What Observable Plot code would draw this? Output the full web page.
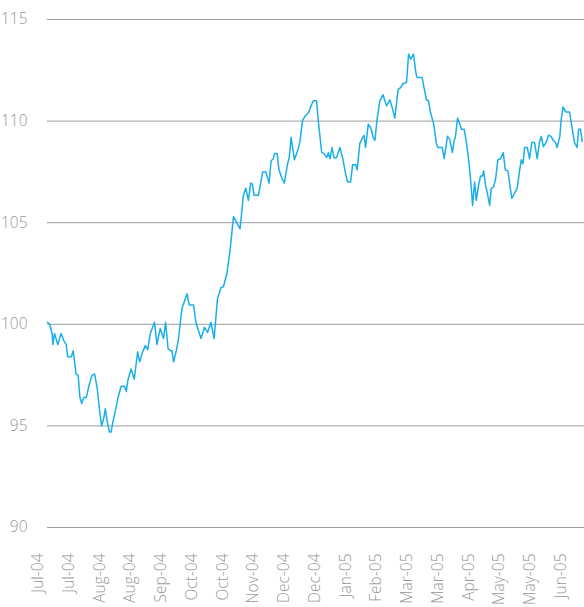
<!DOCTYPE html>
<html><head><meta charset="utf-8">
<script src="https://cdn.jsdelivr.net/npm/d3@7"></script>
<script src="https://cdn.jsdelivr.net/npm/@observablehq/plot@0.6"></script>
<style>html,body{margin:0;padding:0;background:#fff}</style>
</head><body><div id="chart"></div>
<script>
// Position along the x axis, in trading days from the start of the series
const t = [0,1.1,2.3,2.6,3.4,5.0,6.6,7.9,9.1,9.8,11.6,12.5,13.9,14.9,15.7,16.6,17.6,18.9,20.2,21.7,22.9,24.1,25.2,26.3,27.3,28.1,29.0,30.1,30.9,31.9,33.1,34.3,35.8,37.4,38.3,39.1,40.6,42.2,43.8,44.8,46.1,47.5,48.7,50.0,52.0,53.2,54.8,56.4,57.4,58.6,59.7,60.5,61.3,62.6,63.7,65.3,67.8,68.9,71.0,72.1,74.6,76.3,77.8,79.4,81.0,82.6,84.3,85.5,87.2,88.8,90.4,91.7,93.6,95.2,96.4,97.6,98.8,99.6,100.4,102.5,104.6,106.1,107.7,108.7,109.8,110.3,111.6,112.5,113.9,115.1,116.6,117.5,118.4,120.0,121.6,122.7,124.0,125.6,126.8,127.9,129.2,130.8,131.6,133.3,134.5,135.7,136.5,137.3,138.3,139.2,140.5,142.1,143.4,145.0,145.9,147.3,148.3,149.8,150.5,151.8,153.0,153.9,154.6,155.9,157.2,158.3,159.1,160.2,161.5,163.1,164.8,166.4,167.7,168.8,170.4,171.6,172.8,174.5,175.5,176.6,177.9,179.0,179.6,182.1,182.9,184.2,185.2,186.1,187.7,189.0,189.8,191.9,192.8,194.4,195.5,196.8,197.6,198.3,199.3,200.4,201.2,202.5,203.6,204.7,205.7,206.6,207.6,208.4,209.6,210.5,211.4,212.0,212.8,213.8,214.9,215.7,216.8,217.8,218.9,220.2,221.5,222.5,223.8,224.9,225.7,227.0,228.3,229.5,230.3,231.1,231.9,233.2,234.3,235.4,236.7,238.0,239.2,240.0,241.0,242.4,243.5,244.8,245.8,246.9,247.7,249.0,249.7,250.6,251.9,253.7,255.0,256.1,257.4,258.1,259.0,259.9];
// Index level
const value = [100.1,100.0,99.5,99.0,99.55,99.0,99.55,99.2,99.0,98.4,98.4,98.7,97.55,97.5,96.45,96.1,96.4,96.4,97.0,97.5,97.55,96.9,95.85,95.0,95.35,95.85,95.25,94.7,94.7,95.25,95.8,96.4,96.95,96.95,96.7,97.25,97.8,97.3,98.65,98.15,98.6,98.95,98.75,99.55,100.1,99.0,99.8,99.3,100.1,98.8,98.7,98.7,98.15,98.7,99.3,100.75,101.5,100.95,100.95,100.1,99.3,99.85,99.6,100.1,99.3,101.25,101.8,101.85,102.5,103.7,105.3,105.05,104.7,106.35,106.7,106.1,106.95,106.9,106.35,106.35,107.5,107.5,106.95,108.05,108.15,108.4,108.4,107.6,107.2,106.95,107.85,108.2,109.2,108.1,108.55,109.0,110.05,110.3,110.4,110.7,111.0,111.0,110.0,108.45,108.4,108.2,108.45,108.15,108.7,108.2,108.2,108.7,108.2,107.35,107.0,107.0,107.85,107.85,107.6,108.9,109.15,109.3,108.7,109.85,109.65,109.2,109.05,110.1,111.0,111.3,110.75,111.05,110.6,110.15,111.55,111.65,111.85,111.9,113.3,113.05,113.3,112.4,112.15,112.15,111.7,111.05,111.0,110.45,109.85,108.9,108.7,108.7,108.15,109.25,109.1,108.45,109.0,109.25,110.15,109.85,109.6,109.6,108.95,108.1,107.05,105.85,107.0,106.1,106.9,107.3,107.3,107.55,106.9,106.45,105.85,106.7,106.75,107.15,108.1,108.15,108.45,107.6,107.55,106.7,106.2,106.45,106.7,107.6,108.1,107.9,108.7,108.7,108.15,108.95,108.95,108.15,109.0,109.25,108.75,108.95,109.3,109.25,109.05,108.95,108.7,109.25,110.1,110.7,110.45,110.45,109.65,108.95,108.7,109.6,109.6,109.0];
const tickLabels = ["Jul-04","Jul-04","Aug-04","Aug-04","Sep-04","Oct-04","Oct-04","Nov-04","Dec-04","Dec-04","Jan-05","Feb-05","Mar-05","Mar-05","Apr-05","May-05","May-05","Jun-05"];
const yTicks = [90,95,100,105,110,115];
const firstTick = -4.6, tickStep = 14.95; // trading days

const data = t.map((d, i) => ({t: d, v: value[i]}));
const tickPos = tickLabels.map((_, i) => firstTick + i * tickStep);
const labelOf = d => tickLabels[Math.round((d - firstTick) / tickStep)];

const chart = Plot.plot({
  width: 584, height: 607,
  marginLeft: 47, marginRight: 0, marginTop: 19, marginBottom: 80,
  style: {fontFamily: "'Open Sans', sans-serif", fontSize: "15.5px", fontWeight: 300, color: "#979797", background: "#fff"},
  x: {domain: [0, 261]},
  y: {domain: [90, 115]},
  marks: [
    Plot.gridY(yTicks, {stroke: "#9c9c9c", strokeOpacity: 1}),
    Plot.axisY(yTicks, {tickSize: 0, tickPadding: 20, label: null}),
    Plot.axisX(tickPos, {tickSize: 0, tickPadding: 26, tickRotate: -90, tickFormat: labelOf, label: null}),
    Plot.lineY(data, {x: "t", y: "v", stroke: "#1aaeea", strokeWidth: 1.5})
  ]
});
document.getElementById("chart").appendChild(chart);
</script>
</body></html>
